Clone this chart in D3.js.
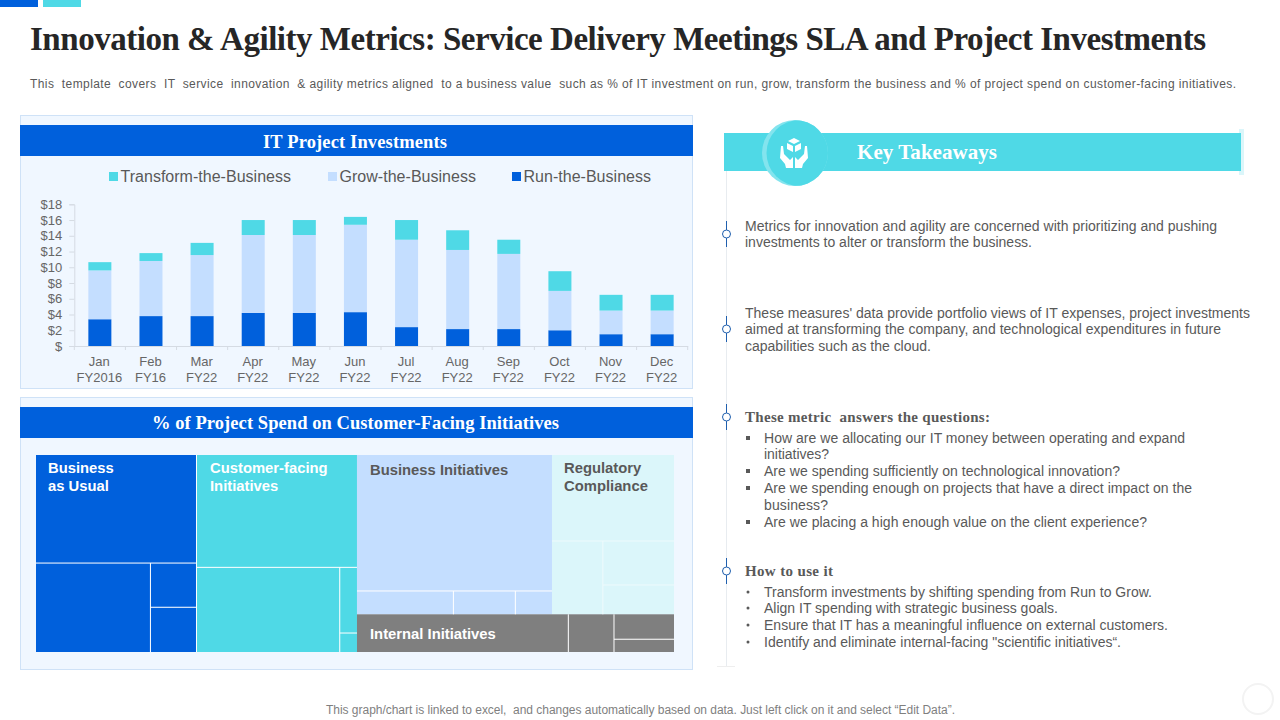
<!DOCTYPE html>
<html>
<head>
<meta charset="utf-8">
<script src="https://cdn.jsdelivr.net/npm/d3@7.9.0/dist/d3.min.js"></script>
<style>
  html, body { margin: 0; padding: 0; background: #fff; }
  svg { display: block; }
  text { font-family: "Liberation Sans", Arial, sans-serif; }
  .serif { font-family: "Liberation Serif", "Times New Roman", serif; font-weight: bold; }
</style>
</head>
<body>
<svg id="page" width="1280" height="720"></svg>
<script>
/* ──── chart values ──── */
const months    = ['Jan', 'Feb', 'Mar', 'Apr', 'May', 'Jun', 'Jul', 'Aug', 'Sep', 'Oct', 'Nov', 'Dec'];
const fiscal    = ['FY2016', 'FY16', 'FY22', 'FY22', 'FY22', 'FY22', 'FY22', 'FY22', 'FY22', 'FY22', 'FY22', 'FY22'];
const runBiz    = [3.4, 3.8, 3.8, 4.2, 4.2, 4.3, 2.4, 2.15, 2.15, 2.0, 1.5, 1.5];
const growBiz   = [6.2, 7.0, 7.75, 9.9, 9.9, 11.1, 11.1, 10.05, 9.55, 5.0, 3.0, 3.0];
const transBiz  = [1.05, 1.0, 1.55, 1.9, 1.9, 1.0, 2.5, 2.5, 1.8, 2.5, 2.0, 2.0];
const yTicks    = [0, 2, 4, 6, 8, 10, 12, 14, 16, 18];
const seriesNames = ['Transform-the-Business', 'Grow-the-Business', 'Run-the-Business'];

/* % of spend, one list per treemap group (first cell carries the label) */
const usualCells    = [13.8, 8.1, 1.62, 1.64];
const customerCells = [14.35, 9.65, 0.9, 0.26];
const businessCells = [21.1, 1.79, 1.15, 0.68];
const regCells      = [8.35, 2.97, 2.49, 1.66];
const internalCells = [6.34, 1.37, 1.19, 0.61];

const BLUE = '#0060dc', CYAN = '#4fd9e6', LIGHT = '#c4deff', PALE = '#dbf6fa', GREY = '#7f7f7f';
const TEXT = '#595959';

const svg = d3.select('#page');

/* ──── page furniture ──── */
svg.append('rect').attr('x', 0).attr('y', 0).attr('width', 38).attr('height', 7).attr('fill', BLUE);
svg.append('rect').attr('x', 43).attr('y', 0).attr('width', 38).attr('height', 7).attr('fill', CYAN);

// fit a line of text to the width it has in the reference
function line (txt, x, y, endX, size, fill, cls) {
  return svg.append('text')
    .attr('class', cls || null)
    .attr('x', x).attr('y', y)
    .attr('font-size', size)
    .attr('fill', fill)
    .attr('textLength', endX - x)
    .attr('lengthAdjust', 'spacing')
    .attr('xml:space', 'preserve')
    .text(txt);
}

line('Innovation & Agility Metrics: Service Delivery Meetings SLA and Project Investments', 30, 50, 1206, 33, '#262626', 'serif');
line('This  template  covers  IT  service  innovation  & agility metrics aligned  to a business value  such as % of IT investment on run, grow, transform the business and % of project spend on customer-facing initiatives.', 30, 88, 1236, 12, TEXT);
line('This graph/chart is linked to excel,  and changes automatically based on data. Just left click on it and select \u201CEdit Data\u201D.', 326, 714, 955, 12, '#7f7f7f');

svg.append('circle').attr('cx', 1258).attr('cy', 699).attr('r', 15)
   .attr('fill', '#fff').attr('stroke', '#f3f3f3').attr('stroke-width', 2);

/* ──── panels ──── */
function panel (y0, y1, title, tx0, tx1, base) {
  svg.append('rect').attr('x', 20.5).attr('y', y0 + .5).attr('width', 672).attr('height', y1 - y0)
     .attr('fill', '#f0f7ff').attr('stroke', '#cfe2f7');
  svg.append('rect').attr('x', 20).attr('y', y0 + 10).attr('width', 673).attr('height', 31).attr('fill', BLUE);
  line(title, tx0, base, tx1, 18.5, '#fff', 'serif');
}
panel(115, 388, 'IT Project Investments', 263, 447, 148);
panel(397, 669, '% of Project Spend on Customer-Facing Initiatives', 152, 559, 429);

/* ──── stacked bars ──── */
const x = d3.scaleBand().domain(months).range([74.3, 687.7]).paddingInner(0.55).paddingOuter(0.275);
const y = d3.scaleLinear().domain([0, 18]).range([346, 204.3]);

const rows = months.map((m, i) => ({ month: m, run: runBiz[i], grow: growBiz[i], trans: transBiz[i] }));
const stack = d3.stack().keys(['run', 'grow', 'trans'])(rows);
const colour = d3.scaleOrdinal().domain(['run', 'grow', 'trans']).range([BLUE, LIGHT, CYAN]);

const chart = svg.append('g');
chart.selectAll('g.layer')
  .data(stack)
  .join('g')
  .attr('class', 'layer')
  .attr('fill', d => colour(d.key))
  .selectAll('rect')
  .data(d => d)
  .join('rect')
  .attr('x', d => x(d.data.month))
  .attr('width', x.bandwidth())
  .attr('y', d => y(d[1]))
  .attr('height', d => y(d[0]) - y(d[1]));

/* axes */
const yAxis = chart.append('g')
  .attr('transform', `translate(${x.range()[0]},0)`)
  .call(d3.axisLeft(y).tickValues(yTicks).tickSize(5).tickPadding(7).tickFormat(d => d ? `$${d}` : '$'));
const xAxis = chart.append('g')
  .attr('transform', `translate(0,${y(0)})`)
  .call(d3.axisBottom(x).tickSize(0).tickFormat(''));

chart.selectAll('.domain').attr('stroke', '#d5dbe3');
chart.selectAll('.tick line').attr('stroke', '#d5dbe3');
yAxis.selectAll('text').attr('font-size', 13).attr('fill', '#666').attr('font-family', '"Liberation Sans", Arial, sans-serif');

// month ticks sit on the band edges, not the centres
const edges = d3.range(months.length + 1).map(i => x.range()[0] + i * x.step());
xAxis.selectAll('line.edge').data(edges).join('line')
  .attr('class', 'edge').attr('x1', d => d).attr('x2', d => d).attr('y1', 0).attr('y2', 4)
  .attr('stroke', '#d5dbe3');

xAxis.selectAll('text').remove();
const xLabels = chart.selectAll('text.mon').data(months).join('text')
  .attr('class', 'mon')
  .attr('text-anchor', 'middle')
  .attr('font-size', 13)
  .attr('fill', '#666')
  .attr('transform', d => `translate(${x(d) + x.bandwidth() / 2 - .5},0)`);
xLabels.append('tspan').attr('x', 0).attr('y', 366).text(d => d);
xLabels.append('tspan').attr('x', 0).attr('y', 382).text((d, i) => fiscal[i]);

/* legend */
const legendX = d3.scaleOrdinal().domain(seriesNames).range([109, 328, 512]);
const legendEnd = d3.scaleOrdinal().domain(seriesNames).range([291, 476, 651]);
const legendFill = d3.scaleOrdinal().domain(seriesNames).range([CYAN, LIGHT, BLUE]);
seriesNames.forEach(n => {
  svg.append('rect').attr('x', legendX(n)).attr('y', 172).attr('width', 9).attr('height', 9).attr('fill', legendFill(n));
  line(n, legendX(n) + 11.5, 182, legendEnd(n), 16, TEXT);
});

/* ──── treemap ──── */
const leaves = (prefix, vals) => vals.map((v, i) => ({ name: `${prefix}-${i}`, value: v }));

// lower part of a group: big cell next to a stacked column (or a strip)
const usualTree = { name: 'usual', fill: BLUE, split: 'slice', children: [
  leaves('usual', usualCells)[0],
  { name: 'usual-low', split: 'dice', children: [
    leaves('usual', usualCells)[1],
    { name: 'usual-col', split: 'slice', children: leaves('usual', usualCells).slice(2) }
  ] }
] };
const customerTree = { name: 'customer', fill: CYAN, split: 'slice', children: [
  leaves('customer', customerCells)[0],
  { name: 'customer-low', split: 'dice', children: [
    leaves('customer', customerCells)[1],
    { name: 'customer-col', split: 'slice', children: leaves('customer', customerCells).slice(2) }
  ] }
] };
const businessTree = { name: 'business', fill: LIGHT, split: 'slice', children: [
  leaves('business', businessCells)[0],
  { name: 'business-low', split: 'dice', children: leaves('business', businessCells).slice(1) }
] };
const regTree = { name: 'reg', fill: PALE, split: 'slice', children: [
  leaves('reg', regCells)[0],
  { name: 'reg-low', split: 'dice', children: [
    leaves('reg', regCells)[1],
    { name: 'reg-col', split: 'slice', children: leaves('reg', regCells).slice(2) }
  ] }
] };
const internalTree = { name: 'internal', fill: GREY, split: 'dice', children: [
  leaves('internal', internalCells)[0],
  leaves('internal', internalCells)[1],
  { name: 'internal-col', split: 'slice', children: leaves('internal', internalCells).slice(2) }
] };

const treeRoot = d3.hierarchy({ name: 'root', split: 'dice', children: [
  usualTree,
  customerTree,
  { name: 'right', split: 'slice', children: [
    { name: 'upper', split: 'dice', children: [businessTree, regTree] },
    internalTree
  ] }
] }).sum(d => d.value || 0);

const tile = (node, x0, y0, x1, y1) =>
  (node.data.split === 'dice' ? d3.treemapDice : d3.treemapSlice)(node, x0, y0, x1, y1);

d3.treemap().tile(tile).size([638, 197]).round(false)(treeRoot);

const groupOf = n => {
  for (let a = n; a; a = a.parent) if (a.data.fill) return a;
};
const tree = svg.append('g').attr('transform', 'translate(36,455)');
tree.selectAll('rect').data(treeRoot.leaves()).join('rect')
  .attr('x', d => d.x0).attr('y', d => d.y0)
  .attr('width', d => d.x1 - d.x0).attr('height', d => d.y1 - d.y0)
  .attr('fill', d => groupOf(d).data.fill);

// hairlines only run between the cells of one group, never round the outside
const hair = d => groupOf(d).data.fill === PALE ? '#eefafc' : '#fff';
const inner = treeRoot.leaves();
tree.selectAll('line.r').data(inner.filter(d => d.x1 < groupOf(d).x1 - .1)).join('line')
  .attr('class', 'r').attr('x1', d => d.x1).attr('x2', d => d.x1).attr('y1', d => d.y0).attr('y2', d => d.y1)
  .attr('stroke', hair);
tree.selectAll('line.b').data(inner.filter(d => d.y1 < groupOf(d).y1 - .1)).join('line')
  .attr('class', 'b').attr('x1', d => d.x0).attr('x2', d => d.x1).attr('y1', d => d.y1).attr('y2', d => d.y1)
  .attr('stroke', hair);
// white gap between the two big groups on the left
const usualNode = treeRoot.children[0];
tree.append('line').attr('x1', usualNode.x1).attr('x2', usualNode.x1).attr('y1', usualNode.y0).attr('y2', usualNode.y1)
  .attr('stroke', '#fff');

const treeLabel = (lines, px, py, fill) => lines.forEach((t, i) => {
  svg.append('text').attr('x', px).attr('y', py + i * 18)
     .attr('font-size', 14.8).attr('font-weight', 'bold').attr('fill', fill).text(t);
});
treeLabel(['Business', 'as Usual'], 48, 473, '#fff');
treeLabel(['Customer-facing', 'Initiatives'], 210, 473, '#fff');
treeLabel(['Business Initiatives'], 370, 475, TEXT);
treeLabel(['Regulatory', 'Compliance'], 564, 473, TEXT);
treeLabel(['Internal Initiatives'], 370, 639, '#fff');

/* ──── key takeaways ──── */
svg.append('line').attr('x1', 726.5).attr('x2', 726.5).attr('y1', 171).attr('y2', 666).attr('stroke', '#e8ecf0');
svg.append('line').attr('x1', 717).attr('x2', 735).attr('y1', 666.5).attr('y2', 666.5).attr('stroke', '#eeeeee');

svg.append('rect').attr('x', 1239).attr('y', 129).attr('width', 5).attr('height', 46).attr('fill', PALE);
svg.append('rect').attr('x', 724).attr('y', 133).attr('width', 517).attr('height', 38).attr('fill', CYAN);

const defs = svg.append('defs');
defs.append('clipPath').attr('id', 'badge').append('circle').attr('cx', 795).attr('cy', 153).attr('r', 33);
svg.append('circle').attr('cx', 795).attr('cy', 153).attr('r', 33).attr('fill', '#83e4ee');
svg.append('circle').attr('cx', 799.5).attr('cy', 153).attr('r', 33).attr('fill', CYAN).attr('clip-path', 'url(#badge)');

const icon = svg.append('g').attr('transform', 'translate(794,153)').attr('fill', '#fff');
icon.append('path').attr('d', 'M0,-15 L6,-12 L0,-9 L-6,-12 Z');
icon.append('path').attr('d', 'M-7,-10 L-1,-7 L-1,-1 L-7,-4 Z');
icon.append('path').attr('d', 'M7,-10 L1,-7 L1,-1 L7,-4 Z');
icon.append('path').attr('d', 'M-13,-7 L-11,-7 L-10,1 L-4,7 L-1,4 L-1,15 L-8,15 L-9,11 L-14,5 Z');
icon.append('path').attr('d', 'M13,-7 L11,-7 L10,1 L4,7 L1,4 L1,15 L8,15 L9,11 L14,5 Z');

line('Key Takeaways', 857, 159, 997, 21, '#fff', 'serif');

// timeline markers
[234, 329, 417, 571].forEach(cy => {
  svg.append('line').attr('x1', 726.5).attr('x2', 726.5).attr('y1', cy - 13).attr('y2', cy + 13)
     .attr('stroke', '#1f5fae').attr('stroke-width', 1);
  svg.append('circle').attr('cx', 726.5).attr('cy', cy).attr('r', 4)
     .attr('fill', '#fff').attr('stroke', '#1f5fae').attr('stroke-width', 1);
});

const notes = [
  ['Metrics for innovation and agility are concerned with prioritizing and pushing', 745, 231, 1217],
  ['investments to alter or transform the business.', 745, 247, 1032],
  ['These measures\' data provide portfolio views of IT expenses, project investments', 745, 318, 1250],
  ['aimed at transforming the company, and technological expenditures in future', 745, 334, 1221],
  ['capabilities such as the cloud.', 745, 351, 931],
  ['How are we allocating our IT money between operating and expand', 764, 443, 1185],
  ['initiatives?', 764, 459, 829],
  ['Are we spending sufficiently on technological innovation?', 764, 476, 1120],
  ['Are we spending enough on projects that have a direct impact on the', 764, 493, 1192],
  ['business?', 764, 510, 828],
  ['Are we placing a high enough value on the client experience?', 764, 527, 1147],
  ['Transform investments by shifting spending from Run to Grow.', 764, 597, 1152],
  ['Align IT spending with strategic business goals.', 764, 613, 1058],
  ['Ensure that IT has a meaningful influence on external customers.', 764, 630, 1168],
  ['Identify and eliminate internal-facing "scientific initiatives\u201C.', 764, 647, 1121]
];
notes.forEach(([t, px, py, end]) => line(t, px, py, end, 14, TEXT));

line('These metric  answers the questions:', 745, 422, 990, 15, TEXT, 'serif');
line('How to use it', 745, 576, 833, 15, TEXT, 'serif');

// square bullets, then round ones
[438, 471, 488, 522].forEach(cy => {
  svg.append('rect').attr('x', 746).attr('y', cy - 2).attr('width', 4).attr('height', 4).attr('fill', TEXT);
});
[592, 608, 625, 642].forEach(cy => {
  svg.append('circle').attr('cx', 748).attr('cy', cy).attr('r', 1.5).attr('fill', TEXT);
});
</script>
</body>
</html>
